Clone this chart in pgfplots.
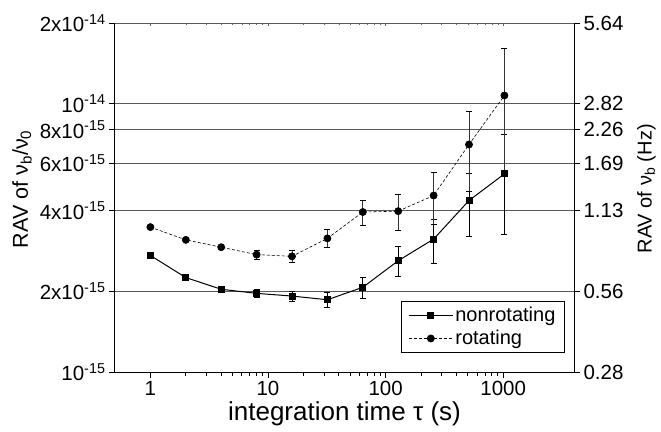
\documentclass[border=0pt]{standalone}
\usepackage{fontspec}
\setmainfont{Liberation Sans}
\usepackage{pgfplots}
\pgfplotsset{compat=1.18}
\usepackage{pgfplotstable}

\pgfplotstableread{
x y e
1 2.72e-15 0.05e-15
2 2.25e-15 0.04e-15
4 2.035e-15 0.04e-15
8 1.965e-15 0.06e-15
16 1.92e-15 0.085e-15
32 1.86e-15 0.12e-15
64 2.07e-15 0.19e-15
128 2.60e-15 0.33e-15
256 3.13e-15 0.58e-15
512 4.36e-15 1.16e-15
1024 5.48e-15 2.22e-15
}\nonrot

\pgfplotstableread{
x y e
1 3.47e-15 0.04e-15
2 3.11e-15 0.04e-15
4 2.92e-15 0.05e-15
8 2.74e-15 0.10e-15
16 2.70e-15 0.13e-15
32 3.15e-15 0.24e-15
64 3.95e-15 0.42e-15
128 3.98e-15 0.61e-15
256 4.55e-15 1.00e-15
512 7.05e-15 2.34e-15
1024 1.074e-14 5.30e-15
}\rot

\begin{document}
\begin{tikzpicture}
% top axis: gray ticks only
\begin{loglogaxis}[
  scale only axis, width=459pt, height=349pt,
  xmin=0.5, xmax=4000, ymin=1e-15, ymax=2e-14,
  axis x line*=top, axis y line=none,
  axis line style={draw=none},
  xtick={1,10,100,1000}, xticklabels={},
  ytick={1e-15,2e-14}, yminorticks=false,
  tick align=inside,
  major tick length=3pt, minor tick length=2pt,
  tick style={line width=0.6pt, black!60},
]
\end{loglogaxis}
% right axis
\begin{loglogaxis}[
  scale only axis, width=459pt, height=349pt,
  xmin=0.5, xmax=4000, ymin=1e-15, ymax=2e-14,
  axis x line=none, axis y line*=right,
  axis line style={-, line width=1pt},
  tick align=outside, major tick length=6pt,
  tick style={line width=0.9pt, black},
  tick label style={font=\fontsize{20.5}{22}\selectfont},
  ytick={1e-15,2e-15,4e-15,6e-15,8e-15,1e-14,2e-14},
  yminorticks=false,
  yticklabels={0.28,0.56,1.13,1.69,2.26,2.82,5.64},
  ylabel={RAV of ν\textsubscript{b} (Hz)},
  ylabel style={font=\fontsize{20}{22}\selectfont, at={(axis description cs:1.158,0.525)}, anchor=center, overlay},
]
\end{loglogaxis}
% main axis
\begin{loglogaxis}[
  name=main,
  scale only axis, width=459pt, height=349pt,
  xmin=0.5, xmax=4000, ymin=1e-15, ymax=2e-14,
  axis x line*=bottom, axis y line*=left,
  axis line style={-, line width=1pt},
  tick align=outside,
  major tick length=6pt, minor tick length=3.5pt,
  tick style={line width=0.9pt, black},
  tick label style={font=\fontsize{20.5}{22}\selectfont},
  xtick={1,10,100,1000}, xticklabels={1,10,100,1000},
  ytick={1e-15,2e-15,4e-15,6e-15,8e-15,1e-14,2e-14},
  yminorticks=false,
  yticklabels={10\textsuperscript{-15},2x10\textsuperscript{-15},4x10\textsuperscript{-15},6x10\textsuperscript{-15},8x10\textsuperscript{-15},10\textsuperscript{-14},2x10\textsuperscript{-14}},
  ymajorgrids, grid style={black!65, line width=0.9pt},
  xlabel={integration time τ (s)},
  ylabel={RAV of ν\textsubscript{b}/ν\textsubscript{0}},
  xlabel style={font=\fontsize{26}{28}\selectfont, at={(axis description cs:0.5,-0.12)}, anchor=center, overlay},
  ylabel style={font=\fontsize{21.5}{24}\selectfont, at={(axis description cs:-0.2026,0.524)}, anchor=center, overlay},
  legend style={at={(0.98,0.055)}, anchor=south east, draw=black, line width=0.8pt,
    font=\fontsize{20}{22}\selectfont, cells={anchor=west}, inner xsep=7pt, inner ysep=4pt,
    row sep=3pt},
  legend image code/.code={\draw[#1, mark=none] (0pt,0pt) -- (44pt,0pt);
     \draw[#1] plot coordinates {(22pt,0pt)};},
]
\addplot[black, line width=1pt, mark=square*, mark size=3pt, mark options={solid},
  error bars/.cd, y dir=both, y explicit,
  error bar style={line width=0.8pt, solid, black},
  error mark options={rotate=90, mark size=3pt, line width=0.8pt, solid, black}]
  table[x=x, y=y, y error=e]{\nonrot};
\addlegendentry{nonrotating}
\addplot[black, line width=0.6pt, dash pattern=on 3pt off 2pt, mark=*, mark size=3.6pt, mark options={solid},
  error bars/.cd, y dir=both, y explicit,
  error bar style={line width=0.8pt, solid, black!80},
  error mark options={rotate=90, mark size=3pt, line width=0.8pt, solid, black}]
  table[x=x, y=y, y error=e]{\rot};
\addlegendentry{rotating}
\end{loglogaxis}
\path ([shift={(-115pt,-60pt)}]main.south west) rectangle ([shift={(87pt,23pt)}]main.north east);
\end{tikzpicture}
\end{document}
